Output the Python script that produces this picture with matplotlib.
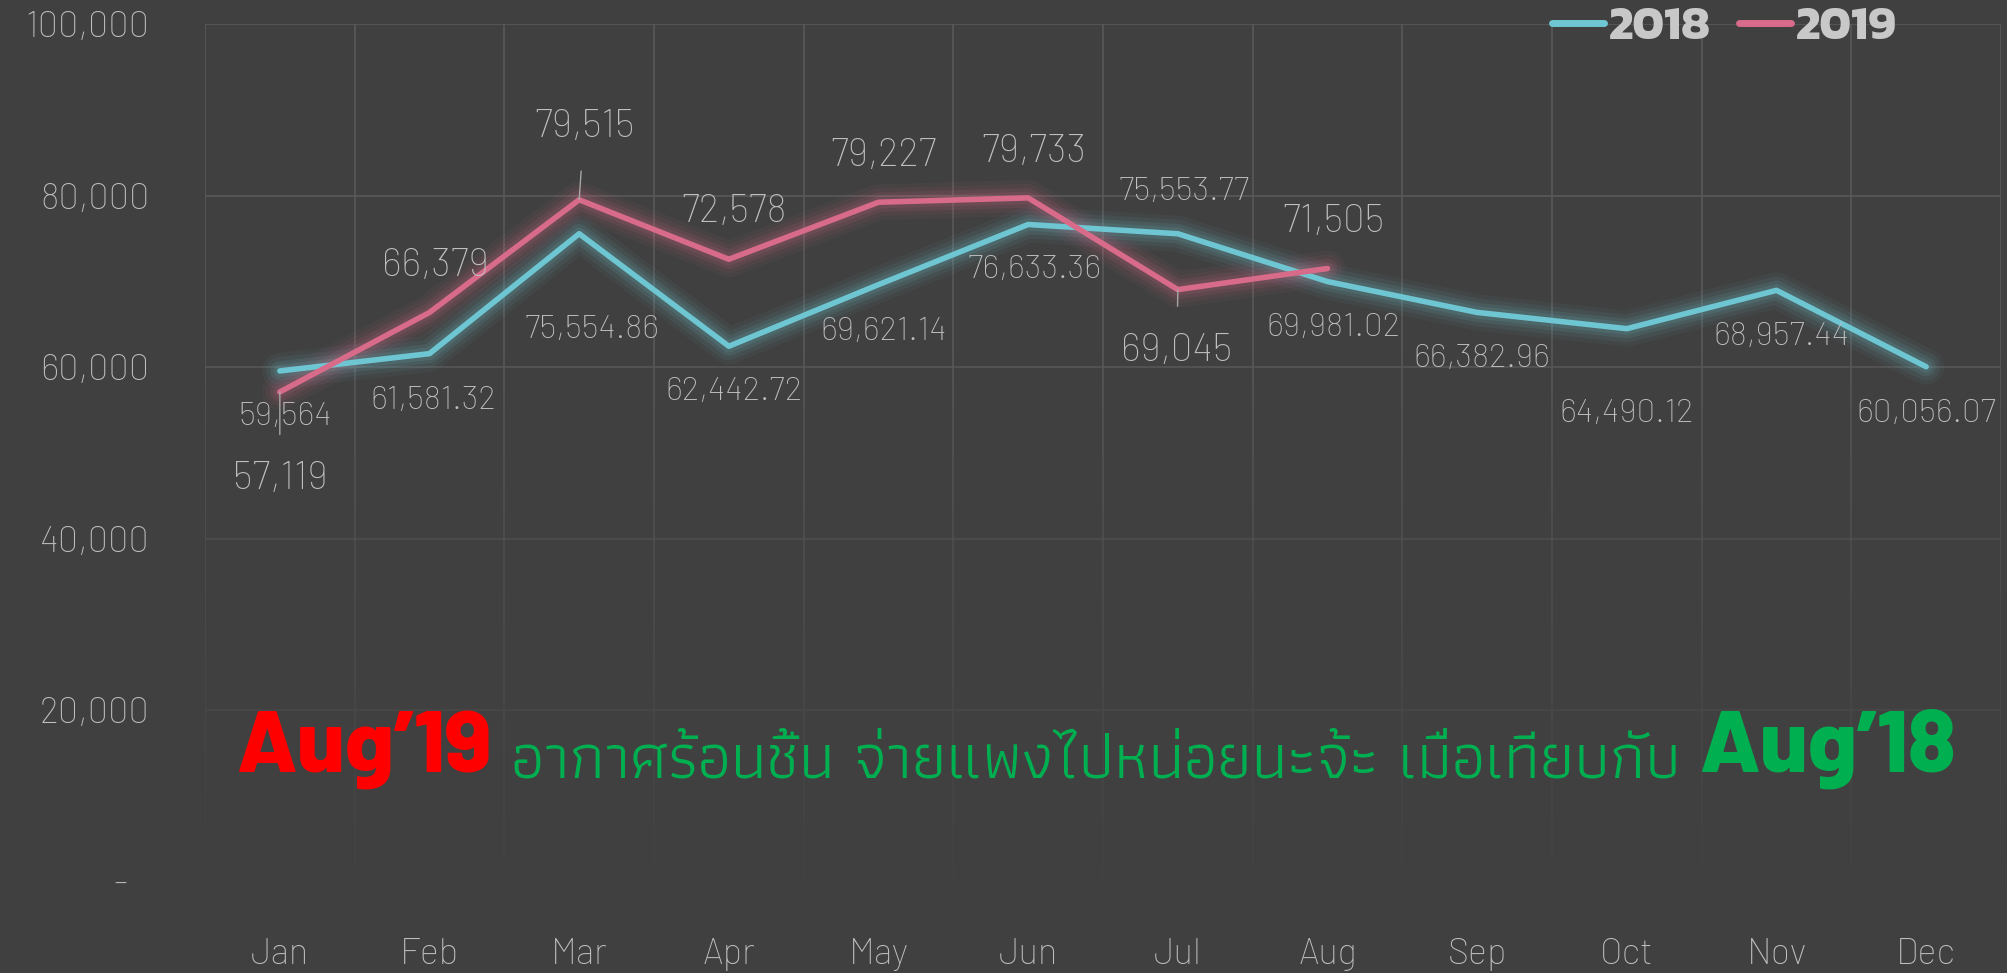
import matplotlib
matplotlib.use("Agg")
import matplotlib.pyplot as plt
import numpy as np

months = ["Jan", "Feb", "Mar", "Apr", "May", "Jun", "Jul", "Aug", "Sep", "Oct", "Nov", "Dec"]
sales_2018 = [59564, 61581.32, 75554.86, 62442.72, 69621.14, 76633.36,
              75553.77, 69981.02, 66382.96, 64490.12, 68957.44, 60056.07]
sales_2019 = [57119, 66379, 79515, 72578, 79227, 79733, 69045, 71505]
labels_2018 = ["59,564", "61,581.32", "75,554.86", "62,442.72", "69,621.14", "76,633.36",
               "75,553.77", "69,981.02", "66,382.96", "64,490.12", "68,957.44", "60,056.07"]
labels_2019 = ["57,119", "66,379", "79,515", "72,578", "79,227", "79,733", "69,045", "71,505"]
y_ticks = [0, 20000, 40000, 60000, 80000, 100000]

# label offsets in pixels (dx, dy) relative to each point
off_2018 = [(5, -46), (4, -47), (13, -96), (5, -46), (5, -47), (6, -46),
            (6, 42), (6, -46), (5, -47), (0, -85), (5, -47), (0, -47)]
off_2019 = [(0, -87), (6, 46), (5, 73), (5, 47), (5, 46), (6, 46), (-1, -61), (6, 46)]
leader_2019 = [True, False, True, False, False, False, True, False]

BG = "#404040"
CYAN = "#6FC6D3"
PINK = "#D86B89"
TXT = "#BFBFBF"
GRID = "#595959"
NUMFONT = "Barlow"

fig = plt.figure(figsize=(20.07, 9.73), dpi=100)
fig.patch.set_facecolor(BG)
ax = fig.add_axes([205 / 2007, 1 - 882 / 973, (2001 - 205) / 2007, (882 - 24) / 973])
ax.set_facecolor(BG)

x18 = np.arange(len(sales_2018))
x19 = np.arange(len(sales_2019))

# glow
for lw, a in [(26, 0.05), (20, 0.07), (14, 0.10), (9, 0.12)]:
    ax.plot(x18, sales_2018, color=CYAN, lw=lw, alpha=a, solid_capstyle="round",
            solid_joinstyle="round", zorder=3)
    ax.plot(x19, sales_2019, color=PINK, lw=lw, alpha=a, solid_capstyle="round",
            solid_joinstyle="round", zorder=3)
ax.plot(x18, sales_2018, color=CYAN, lw=4, solid_capstyle="round", zorder=5, label="2018")
ax.plot(x19, sales_2019, color=PINK, lw=4, solid_capstyle="round", zorder=5, label="2019")

for i, (v, s, o) in enumerate(zip(sales_2018, labels_2018, off_2018)):
    ax.annotate(s, (i, v), xytext=o, textcoords="offset pixels", ha="center", va="center",
                fontsize=24, color=TXT, family=NUMFONT, weight="light", zorder=6)
for i, (v, s, o, ld) in enumerate(zip(sales_2019, labels_2019, off_2019, leader_2019)):
    ap = dict(arrowstyle="-", color="#A6A6A6", lw=1, shrinkA=17, shrinkB=0) if ld else None
    ax.annotate(s, (i, v), xytext=o, textcoords="offset pixels", ha="center", va="center",
                fontsize=28, color=TXT, family=NUMFONT, weight="light", zorder=6,
                arrowprops=ap)

ax.set_xlim(-0.5, 11.5)
ax.set_ylim(0, 100000)
ax.set_xticks(x18)
ax.set_xticklabels(months)
ax.set_xticks(np.arange(-0.5, 12, 1), minor=True)
ax.set_yticks(y_ticks)
ax.set_yticklabels(["-   "] + [f"{t:,}" for t in y_ticks[1:]])
ax.tick_params(which="both", length=0)
ax.tick_params(axis="x", pad=40, labelsize=26, labelcolor=TXT)
ax.tick_params(axis="y", pad=40, labelsize=26, labelcolor=TXT)
for lab in ax.get_xticklabels() + ax.get_yticklabels():
    lab.set_family(NUMFONT)
    lab.set_weight("light")
ax.grid(which="minor", axis="x", color=GRID, lw=1.2)
ax.grid(which="major", axis="y", color=GRID, lw=1.2)
ax.set_axisbelow(True)
for sp in ax.spines.values():
    sp.set_visible(False)

# fade grid toward the bottom
grad = np.zeros((100, 1, 4))
grad[..., :3] = matplotlib.colors.to_rgb(BG)
grad[:, 0, 3] = np.linspace(0.92, 0.0, 100) ** 0.8
ax.imshow(grad, extent=(-0.5, 11.5, 0, 62000), origin="lower", aspect="auto", zorder=2)
ax.set_xlim(-0.5, 11.5)
ax.set_ylim(0, 100000)

leg = ax.legend(loc="upper center", bbox_to_anchor=(0.846, 1.07), ncol=2, frameon=False,
                handlelength=1.1, handletextpad=0.1, columnspacing=0.6,
                prop=dict(family="Kanit", weight="bold", size=34))
for t in leg.get_texts():
    t.set_color("#C8C8C8")
for h in leg.get_lines():
    h.set_linewidth(5)
    h.set_solid_capstyle("round")

# message
t1 = fig.text(237 / 2007, 1 - 772 / 973, "Aug\u201919", color="#FF0000", fontsize=63,
              family="Barlow", weight="heavy", va="baseline")
t2 = ax.annotate(" อากาศร้อนชื้น จ่ายแพงไปหน่อยนะจ้ะ เมื่อเทียบกับ ", xy=(1, 0), xycoords=t1,
                 va="bottom", color="#00B050", fontsize=46,
                 family=["Athiti", "Barlow"], weight="normal")
ax.annotate("Aug\u201918", xy=(1, 0), xycoords=t2, va="bottom", color="#00B050",
            fontsize=63, family="Barlow", weight="heavy")

fig.savefig("out.png", facecolor=fig.get_facecolor())
